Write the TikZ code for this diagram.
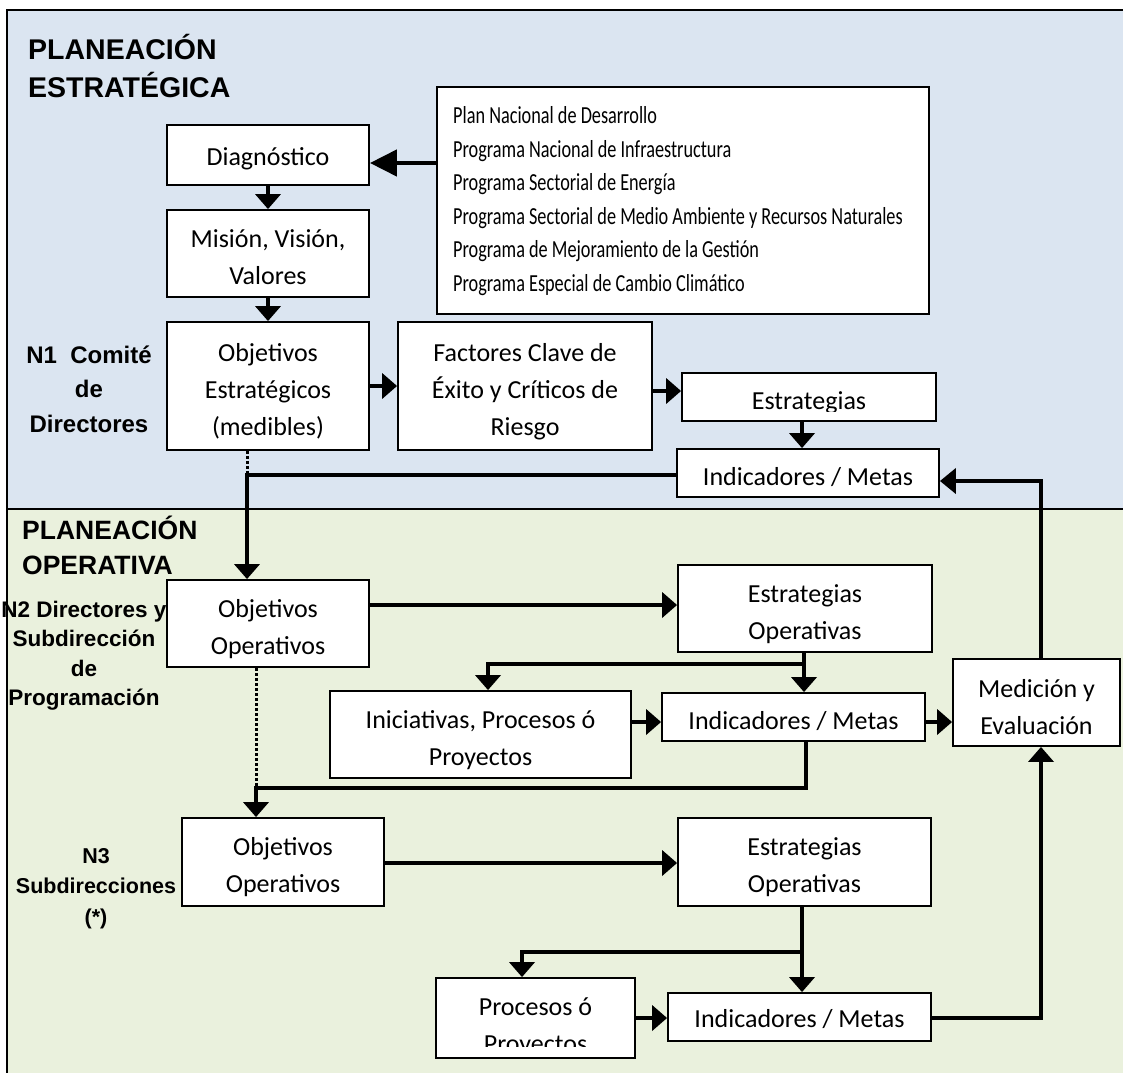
\documentclass[tikz,border=0pt]{standalone}
\usepackage{fontspec}
\setmainfont{Carlito}
\newfontfamily\headfont{Liberation Sans}
\newfontfamily\listfont[FakeStretch=0.745]{Carlito}
\usetikzlibrary{arrows.meta}
\definecolor{stratbg}{HTML}{DBE5F1}
\definecolor{operbg}{HTML}{EAF1DD}

\begin{document}
\begin{tikzpicture}[x=1pt,y=-1pt,
  box/.style={draw=black, line width=1.8pt, fill=white, inner sep=0pt},
  boxtxt/.style={font=\fontsize{26}{37}\selectfont, align=center, inner sep=0pt,
    execute at begin node=\strut, execute at end node=\strut},
  listtxt/.style={font=\listfont\fontsize{24.5}{33.6}\selectfont, align=left, inner sep=0pt,
    execute at begin node=\strut, execute at end node=\strut},
  title/.style={font=\headfont\bfseries\fontsize{#1}{38}\selectfont, align=left, inner sep=0pt, anchor=west,
    execute at begin node=\strut, execute at end node=\strut},
  lvl/.style 2 args={font=\headfont\bfseries\fontsize{#1}{#2}\selectfont, align=center, inner sep=0pt,
    execute at begin node=\strut, execute at end node=\strut},
  conn/.style={line width=4.5pt, -{Triangle[length=15pt,width=25pt]}},
  dotline/.style={line width=3pt, dash pattern=on 2.6pt off 2.4pt},
]
\useasboundingbox (0,0) rectangle (1123,1073);

% two planning bands
\fill[stratbg] (7,10) rectangle (1123,509);
\fill[operbg] (7,509) rectangle (1123,1073);
\draw[line width=2pt] (1123,10) -- (7,10) -- (7,1073);
\draw[line width=2pt] (7,509) -- (1123,509);

% band titles
\node[title=28.5] (ttlA) at (28,71.5) {PLANEACIÓN\\ESTRATÉGICA};
\node[title=26.5, font=\headfont\bfseries\fontsize{26.5}{35}\selectfont] (ttlB) at (22,550) {PLANEACIÓN\\OPERATIVA};

% level labels
\node[lvl={24}{34.5}] (lvlA) at (89,394) {N1~~Comité\\de\\Directores};
\node[lvl={22.5}{29.5}] (lvlB) at (84,658) {N2 Directores y\\Subdirección\\de\\Programación};
\node[lvl={21.5}{30.5}] (lvlC) at (96,891) {N3\\Subdirecciones\\(*)};

% boxes
\node[box, minimum width=202, minimum height=60] (diag) at (268,155) {};
\node[box, minimum width=202, minimum height=87] (mision) at (268,253.5) {};
\node[box, minimum width=492, minimum height=227] (list) at (683,200.5) {};
\node[box, minimum width=202, minimum height=128] (objest) at (268,386) {};
\node[box, minimum width=254, minimum height=128] (factores) at (525,386) {};
\node[box, minimum width=254, minimum height=48] (estr) at (809,397) {};
\node[box, minimum width=262, minimum height=48] (ind1) at (808,473) {};
\node[box, minimum width=202, minimum height=87] (objop2) at (268,623.5) {};
\node[box, minimum width=254, minimum height=87] (estop2) at (805,608.5) {};
\node[box, minimum width=301, minimum height=87] (inic) at (480.5,734.5) {};
\node[box, minimum width=263, minimum height=48] (ind2) at (793.5,717) {};
\node[box, minimum width=167, minimum height=87] (med) at (1036.5,702.5) {};
\node[box, minimum width=202, minimum height=88] (objop3) at (283,862) {};
\node[box, minimum width=253, minimum height=88] (estop3) at (804.5,862) {};
\node[box, minimum width=199, minimum height=80] (proc) at (535.5,1018) {};
\node[box, minimum width=263, minimum height=48] (ind3) at (799.5,1017) {};

% box texts
\node[boxtxt] (diagT) at (268,158) {Diagnóstico};
\node[boxtxt] (misionT) at (268,262.5) {Misión, Visión,\\Valores};
\node[listtxt, anchor=west] (listT) at (453,204) {Plan Nacional de Desarrollo\\Programa Nacional de Infraestructura\\Programa Sectorial de Energía\\Programa Sectorial de Medio Ambiente y Recursos Naturales\\Programa de Mejoramiento de la Gestión\\Programa Especial de Cambio Climático};
\node[boxtxt] (objestT) at (268,395) {Objetivos\\Estratégicos\\(medibles)};
\node[boxtxt] (factoresT) at (525,395) {Factores Clave de\\Éxito y Críticos de\\Riesgo};
\begin{scope}
  \clip (682,373) rectangle (936,411);
  \node[boxtxt] (estrT) at (809,402) {Estrategias};
\end{scope}
\node[boxtxt] (ind1T) at (808,478) {Indicadores / Metas};
\node[boxtxt] (objop2T) at (268,632.5) {Objetivos\\Operativos};
\node[boxtxt] (estop2T) at (805,617.5) {Estrategias\\Operativas};
\node[boxtxt] (inicT) at (480.5,744) {Iniciativas, Procesos ó\\Proyectos};
\node[boxtxt] (ind2T) at (793.5,722) {Indicadores / Metas};
\node[boxtxt] (medT) at (1036.5,713) {Medición y\\Evaluación};
\node[boxtxt] (objop3T) at (283,870.5) {Objetivos\\Operativos};
\node[boxtxt] (estop3T) at (804.5,870.5) {Estrategias\\Operativas};
\begin{scope}
  \clip (436,978) rectangle (635,1046);
  \node[boxtxt] (procT) at (535.5,1031) {Procesos ó\\Proyectos};
\end{scope}
\node[boxtxt] (ind3T) at (799.5,1020) {Indicadores / Metas};

% junction points of the connectors
\coordinate (ly) at (0,163);
\coordinate (fy) at (0,391);
\coordinate (ex) at (802,0);
\coordinate (j1) at (247,475);
\coordinate (oy2) at (0,605);
\coordinate (j2) at (804,664);
\coordinate (j3) at (488,664);
\coordinate (iy) at (0,722);
\coordinate (j4) at (806,788);
\coordinate (j5) at (256,788);
\coordinate (oy3) at (0,863);
\coordinate (j6) at (802,952);
\coordinate (j7) at (522,952);
\coordinate (py) at (0,1018);
\coordinate (j8) at (1041,1018);
\coordinate (j9) at (1041,481);

% strategic flow
\draw[conn, -{Triangle[length=27pt,width=26pt]}] (list.west |- ly) -- (diag.east |- ly);
\draw[conn] (diag.south) -- (mision.north);
\draw[conn] (mision.south) -- (objest.north);
\draw[conn] (objest.east) -- (factores.west);
\draw[conn] (factores.east |- fy) -- (estr.west |- fy);
\draw[conn] (estr.south -| ex) -- (ind1.north -| ex);
\draw[dotline] (objest.south -| j1) -- (j1);
\draw[conn] (ind1.west |- j1) -- (j1) -- (objop2.north -| j1);

% N2 operational flow
\draw[conn] (objop2.east |- oy2) -- (estop2.west |- oy2);
\draw[conn] (estop2.south -| j2) -- (ind2.north -| j2);
\draw[conn] (j2) -- (j3) -- (inic.north -| j3);
\draw[conn] (inic.east |- iy) -- (ind2.west |- iy);
\draw[conn] (ind2.east |- iy) -- (med.west |- iy);
\draw[dotline] (objop2.south -| j5) -- (j5);
\draw[conn] (ind2.south -| j4) -- (j4) -- (j5) -- (objop3.north -| j5);

% N3 operational flow
\draw[conn] (objop3.east |- oy3) -- (estop3.west |- oy3);
\draw[conn] (estop3.south -| j6) -- (ind3.north -| j6);
\draw[conn] (j6) -- (j7) -- (proc.north -| j7);
\draw[conn] (proc.east |- py) -- (ind3.west |- py);
\draw[conn] (ind3.east |- py) -- (j8) -- (med.south -| j8);

% feedback to strategic goals
\draw[conn, -{Triangle[length=16pt,width=25pt]}] (med.north -| j9) -- (j9) -- (ind1.east |- j9);
\end{tikzpicture}
\end{document}
